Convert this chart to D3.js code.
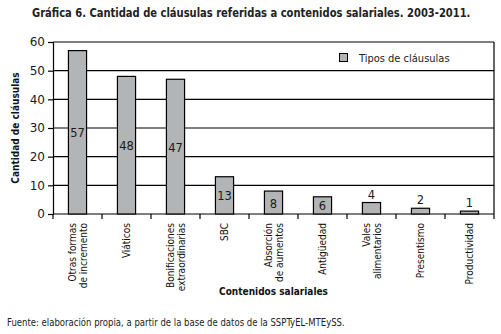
<!DOCTYPE html>
<html><head><meta charset="utf-8">
<script src="https://cdn.jsdelivr.net/npm/d3@7"></script>
<style>body{margin:0;background:#fff}svg{display:block}</style>
</head><body>
<svg id="c" width="501" height="334"></svg>
<script>
const categories = [["Otras formas","de incremento"],["Viáticos"],["Bonificaciones","extraordinarias"],["SBC"],["Absorción","de aumentos"],["Antigüedad"],["Vales","alimentarios"],["Presentismo"],["Productividad"]];
const values = [57,48,47,13,8,6,4,2,1];
const yTicks = [0,10,20,30,40,50,60];
const seriesName = "Tipos de cláusulas";
const title = "Gráfica 6. Cantidad de cláusulas referidas a contenidos salariales. 2003-2011.";
const yTitle = "Cantidad de cláusulas";
const xTitle = "Contenidos salariales";
const source = "Fuente: elaboración propia, a partir de la base de datos de la SSPTyEL-MTEySS.";

const svg = d3.select("#c");
const L=53, R=494, T=42, B=214;
const x = d3.scaleBand().domain(d3.range(categories.length)).range([L,R]).paddingInner(0.63).paddingOuter(0.315);
const y = d3.scaleLinear().domain([0,60]).range([B,T]);
const cond = "'Liberation Sans Narrow','Arial Narrow','DejaVu Sans Condensed',sans-serif";

function fitText(sel, x0, y0, width){
  const len = sel.node().getComputedTextLength();
  const s = Math.min(1, width/len);
  sel.attr("transform",`translate(${x0},${y0}) scale(${s},1)`);
}

const tt = svg.append("text").attr("font-family",cond).attr("font-weight","bold")
  .attr("font-size",12.5).attr("fill","#222").text(title);
fitText(tt, 32, 17, 439);

// gridlines
svg.append("g").selectAll("line").data(yTicks.filter(d=>d>0)).join("line")
  .attr("x1",L).attr("x2",R).attr("y1",d=>y(d)).attr("y2",d=>y(d)).attr("stroke","#000").attr("stroke-width",1.2);
// right border
svg.append("line").attr("x1",R).attr("x2",R).attr("y1",T).attr("y2",B).attr("stroke","#000").attr("stroke-width",1.2);

// y axis
const ya = svg.append("g").attr("transform",`translate(${L},0)`)
  .call(d3.axisLeft(y).tickValues(yTicks).tickSize(5).tickPadding(3));
ya.select(".domain").attr("stroke","#000").attr("stroke-width",1.2);
ya.selectAll(".tick line").attr("stroke","#000").attr("stroke-width",1.2);
ya.selectAll("text").attr("font-family","Tahoma,'DejaVu Sans',sans-serif").attr("font-size",12).attr("fill","#1a1a2a");

// x axis with category separator ticks
svg.append("line").attr("x1",L).attr("x2",R).attr("y1",B).attr("y2",B).attr("stroke","#000").attr("stroke-width",1.2);
const step = x.step();
svg.append("g").selectAll("line").data(d3.range(categories.length+1)).join("line")
  .attr("x1",i=>L+i*step).attr("x2",i=>L+i*step).attr("y1",B).attr("y2",B+5).attr("stroke","#000").attr("stroke-width",1.2);

// bars
svg.append("g").selectAll("rect").data(values).join("rect")
  .attr("x",(d,i)=>x(i)).attr("width",x.bandwidth()).attr("y",d=>y(d)).attr("height",d=>B-y(d))
  .attr("fill","#b2b4b6").attr("stroke","#000").attr("stroke-width",1.2);

// value labels
svg.append("g").selectAll("text").data(values).join("text")
  .attr("x",(d,i)=>x(i)+x.bandwidth()/2)
  .attr("y",d=> (B-y(d))>14 ? (y(d)+B)/2+5 : y(d)-4)
  .attr("text-anchor","middle").attr("font-family","Tahoma,'DejaVu Sans',sans-serif").attr("font-size",11.5).attr("fill","#1a1a1a")
  .text(d=>d);

// category labels rotated
const cl = svg.append("g");
categories.forEach((lines,i)=>{
  const cx = x(i)+x.bandwidth()/2;
  const n = lines.length;
  lines.forEach((t,j)=>{
    const off = (j-(n-1)/2)*11;
    cl.append("text").attr("transform",`translate(${cx+off+3.5},${B+9}) rotate(-90)`)
      .attr("text-anchor","end").attr("font-family",cond).attr("font-size",10).attr("fill","#111").text(t);
  });
});

// axis titles
svg.append("text").attr("transform",`translate(19,${(T+B)/2}) rotate(-90)`).attr("text-anchor","middle")
  .attr("font-family","'DejaVu Sans Condensed',sans-serif").attr("font-weight","bold").attr("font-size",10).attr("fill","#111").text(yTitle);
svg.append("text").attr("x",(L+R)/2).attr("y",295).attr("text-anchor","middle")
  .attr("font-family","'DejaVu Sans Condensed',sans-serif").attr("font-weight","bold").attr("font-size",10).attr("fill","#111").text(xTitle);

// legend
svg.append("rect").attr("x",339.5).attr("y",53.5).attr("width",8).attr("height",8).attr("fill","#b2b4b6").attr("stroke","#000");
svg.append("text").attr("x",359).attr("y",61.5).attr("font-family",cond).attr("font-size",11).attr("fill","#222").text(seriesName);

// source
const st = svg.append("text").attr("font-family",cond).attr("font-size",10).attr("fill","#222").text(source);
fitText(st, 7, 326, 338);
</script>
</body></html>
